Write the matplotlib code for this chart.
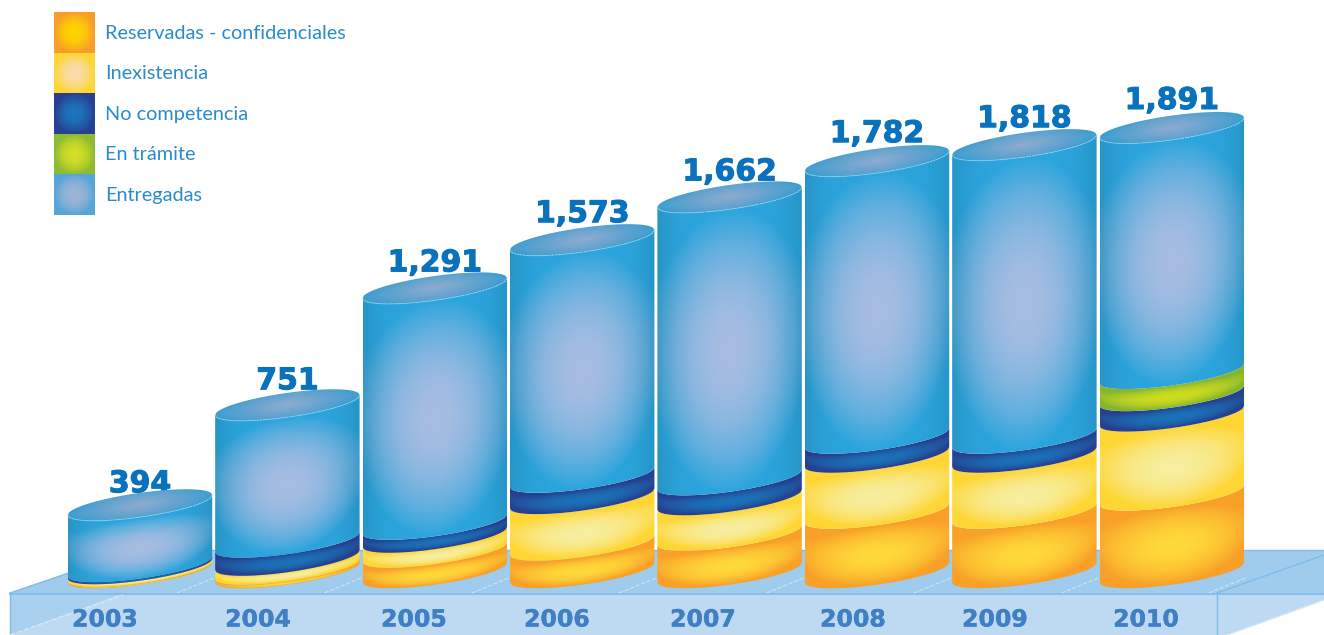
#!/usr/bin/env python

import numpy as np
import matplotlib
matplotlib.use("Agg")
import matplotlib.pyplot as plt
import matplotlib.patheffects as pe
from matplotlib.colors import to_rgb
from matplotlib.patches import PathPatch, Polygon
from matplotlib.path import Path

years = ["2003", "2004", "2005", "2006", "2007", "2008", "2009", "2010"]
totals = ["394", "751", "1,291", "1,573", "1,662", "1,782", "1,818", "1,891"]

# stacks from the bottom up, as drawn (the picture is not quite to scale)
reservadas = [6, 15, 87, 117, 159, 253, 253, 330]
inexistencia = [11, 38, 64, 198, 151, 238, 238, 336]
no_competencia = [9, 77, 55, 91, 85, 81, 81, 87]
en_tramite = [0, 0, 0, 0, 0, 0, 0, 94]
entregadas = [261, 582, 1003, 1008, 1201, 1178, 1246, 1044]

series = [reservadas, inexistencia, no_competencia, en_tramite, entregadas]
legend_names = ["Reservadas - confidenciales", "Inexistencia", "No competencia",
                "En trámite", "Entregadas"]

# edge colour, centre colour, darkening at the sides
bar_colors = [("#f9a028", "#ffd93a", 0), ("#ffd633", "#f7eea0", 0), ("#27408f", "#1a72b8", 0),
              ("#85b52e", "#cfdc1f", 0), ("#2ba5dd", "#a8bde2", 0.1)]
legend_colors = [("#f99d2a", "#ffd500"), ("#ffd633", "#f9dcae"), ("#27408f", "#1c75bc"),
                 ("#8dbb34", "#d6df23"), ("#56a5d8", "#a0b4d6")]

# layout, in pixels of the 1324x635 picture
W, H = 1324, 635
BASE_PX = 572.5
X0_PX, STEP_PX = 140, 147.4
PX_PER_UNIT = 0.2352
HALF = 0.49
TILT = 10 / PX_PER_UNIT
FLAT = 12.2 / PX_PER_UNIT
YEAR_X = [105, 258, 414, 557, 703, 853, 995, 1146]
LABEL_GAP_PX = [-3, 0, 1, 2, 1, 3, 2, 3]

U = np.linspace(-1, 1, 121)


def shade(r, edge, center):
    r = np.clip(r, 0, 1)[..., None]
    return (1 - r) * np.array(to_rgb(center)) + r * np.array(to_rgb(edge))


def lower_arc(u, y):
    return y + TILT * u - FLAT * np.sqrt(1 - u ** 2)


def upper_arc(u, y):
    return y + TILT * u + FLAT * np.sqrt(1 - u ** 2)


def draw_gradient(ax, x, y, path_xy, color_fn, zorder):
    extent = [x - HALF, x + HALF, y[0], y[1]]
    xs = np.linspace(extent[0], extent[1], 150)
    ys = np.linspace(extent[2], extent[3], max(int((y[1] - y[0]) * PX_PER_UNIT), 4))
    xx, yy = np.meshgrid(xs, ys)
    img = ax.imshow(color_fn((xx - x) / HALF, yy), extent=extent, origin="lower",
                    aspect="auto", interpolation="bilinear", zorder=zorder)
    patch = PathPatch(Path(path_xy), transform=ax.transData, fc="none", ec="none")
    ax.add_patch(patch)
    img.set_clip_path(patch)


def draw_segment(ax, x, lo, hi, colors):
    edge, center, dim = colors
    xs = x + U * HALF
    outline = np.vstack([np.column_stack([xs, lower_arc(U, lo)]),
                         np.column_stack([xs[::-1], lower_arc(U[::-1], hi)])])
    outline = np.vstack([outline, outline[0]])

    def color_fn(u, yy):
        u = np.clip(u, -1, 1)
        v = (yy - lower_arc(u, lo)) / (hi - lo)
        r = (0.88 * u) ** 2 + (2 * v - 1) ** 2
        rgb = shade(r, edge, center)
        return np.clip(rgb * (1 - dim * np.abs(u[..., None]) ** 4), 0, 1)

    top = hi + TILT + FLAT
    draw_gradient(ax, x, (lo - TILT - FLAT, top), outline, color_fn, 3)


def draw_cap(ax, x, y):
    xs = x + U * HALF
    outline = np.vstack([np.column_stack([xs, lower_arc(U, y)]),
                         np.column_stack([xs[::-1], upper_arc(U[::-1], y)])])

    def color_fn(u, yy):
        u = np.clip(u, -1, 1)
        half = np.maximum(FLAT * np.sqrt(1 - u ** 2), 1)
        v = (yy - (y + TILT * u)) / half
        return shade(np.sqrt((0.95 * u) ** 2 + (0.65 * v) ** 2), "#3d9dd0", "#90abcf")

    draw_gradient(ax, x, (y - TILT - FLAT, y + TILT + FLAT), outline, color_fn, 5)
    ax.plot(xs, lower_arc(U, y), color="#8ad3ef", lw=0.7, ls=(0, (2, 1)), zorder=6)


def draw_bars(ax):
    bottoms = np.zeros(len(years))
    for values, colors in zip(series, bar_colors):
        for i, value in enumerate(values):
            if value > 0:
                draw_segment(ax, i, bottoms[i], bottoms[i] + value, colors)
        bottoms = bottoms + np.array(values)

    cap_top = np.hypot(TILT, FLAT)
    for i, height in enumerate(bottoms):
        draw_cap(ax, i, height)
        ax.text(i, height + cap_top + LABEL_GAP_PX[i] / PX_PER_UNIT, totals[i], ha="center", va="baseline",
                fontsize=21.5, fontweight="bold", color="#0a72bd", zorder=4.5,
                path_effects=[pe.withStroke(linewidth=0.8, foreground="#0a72bd")])


def draw_platform(ax):
    top_color, front_color, line_color = "#9fcbec", "#bddaf2", "#7dbde9"
    ax.add_patch(Polygon([(136, 550), (1324, 550), (1324, 593), (10, 593)], fc=top_color, ec="none"))
    ax.add_patch(Polygon([(10, 593), (1324, 593), (1324, 600), (1227, 635), (10, 635)], fc=front_color, ec="none"))
    ax.add_patch(Polygon([(10, 593), (123, 593), (10, 635)], fc="#a9d0ee", ec="none"))
    ax.plot([136, 1324], [550, 550], color=line_color, lw=1)
    ax.plot([10, 1324], [593.5, 593.5], color=line_color, lw=1.3)
    ax.plot([10, 136], [593, 550], color=line_color, lw=1)
    ax.plot([10, 10], [593, 635], color=line_color, lw=1)
    ax.plot([1217, 1217], [593, 635], color=line_color, lw=1)
    ax.plot([1217, 1324], [593, 555], color=line_color, lw=1)
    ax.plot([10, 123], [635, 595], color="#d6e8f7", lw=1, ls="--")
    ax.plot([1227, 1324], [635, 600], color="#d6e8f7", lw=1)
    for i in range(len(years)):
        x = X0_PX + STEP_PX * i + 37
        ax.plot([x, x + 37], [593, 578], color="#cfe4f6", lw=0.8, ls="--")


def draw_legend(ax):
    top, size = 13, 40.5
    vv, uu = np.meshgrid(np.linspace(-1, 1, 60), np.linspace(-1, 1, 60))
    for i, (name, colors) in enumerate(zip(legend_names, legend_colors)):
        y = top + i * size
        ax.imshow(shade(uu ** 2 + vv ** 2, *colors), extent=[54, 95, y + size, y], aspect="auto", zorder=2)
        ax.text(105, y + size / 2, name, fontsize=14.3, family="Lato",
                color="#2a8bcb", va="center", zorder=3)


def main():
    fig = plt.figure(figsize=(W / 100, H / 100), dpi=100)

    back = fig.add_axes([0, 0, 1, 1])
    draw_platform(back)
    draw_legend(back)
    for x, year in zip(YEAR_X, years):
        back.text(x, 619.5, year, ha="center", va="center", fontsize=17, fontweight="bold", color="#3f7fc4",
                  path_effects=[pe.withStroke(linewidth=0.3, foreground="#3f7fc4")])
    back.set_xlim(0, W)
    back.set_ylim(H, 0)
    back.axis("off")

    ax = fig.add_axes([0, 0, 1, 1])
    ax.patch.set_alpha(0)
    draw_bars(ax)
    ax.set_xlim(-X0_PX / STEP_PX, (W - X0_PX) / STEP_PX)
    ax.set_ylim(-(H - BASE_PX) / PX_PER_UNIT, BASE_PX / PX_PER_UNIT)
    ax.axis("off")

    fig.savefig("out.png", dpi=100)


if __name__ == "__main__":
    main()
